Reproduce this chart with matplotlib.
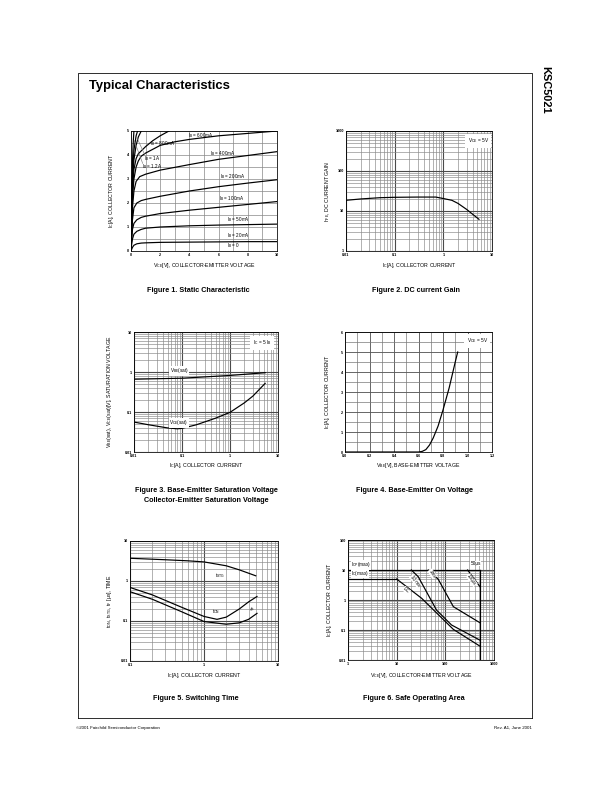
import matplotlib
matplotlib.use('Agg')
import matplotlib.pyplot as plt
from matplotlib.ticker import MultipleLocator, LogLocator, NullFormatter

plt.rcParams['font.family'] = ['Liberation Sans', 'DejaVu Sans']
plt.rcParams['mathtext.default'] = 'regular'

# ---------------- data ----------------
# Figure 1: static characteristic (Vce [V], Ic [A]) per base current
ib20_v = [0, 0.1, 0.2, 0.4, 0.7, 1, 2, 4, 6, 8, 10]
ib20_i = [0, 0.15, 0.24, 0.3, 0.33, 0.34, 0.36, 0.37, 0.38, 0.39, 0.39]
ib50_v = [0, 0.05, 0.1, 0.2, 0.4, 0.7, 1, 2, 4, 6, 8, 10]
ib50_i = [0, 0.3, 0.5, 0.7, 0.82, 0.9, 0.95, 1.0, 1.05, 1.08, 1.1, 1.12]
ib100_v = [0, 0.05, 0.1, 0.2, 0.4, 0.7, 1, 2, 4, 6, 8, 10]
ib100_i = [0, 0.5, 0.9, 1.15, 1.3, 1.4, 1.45, 1.56, 1.7, 1.82, 1.94, 2.06]
ib200_v = [0, 0.05, 0.1, 0.2, 0.4, 0.7, 1, 2, 4, 6, 8, 10]
ib200_i = [0, 0.7, 1.3, 1.8, 2.0, 2.1, 2.15, 2.28, 2.5, 2.68, 2.83, 2.97]
ib400_v = [0, 0.05, 0.1, 0.2, 0.35, 0.6, 1, 2, 4, 6, 8, 10]
ib400_i = [0, 1.0, 1.8, 2.5, 2.9, 3.1, 3.2, 3.37, 3.6, 3.82, 3.98, 4.14]
ib600_v = [0, 0.05, 0.1, 0.2, 0.35, 0.5, 0.7, 1, 2, 3, 4, 6, 8, 10]
ib600_i = [0, 1.2, 2.2, 3.0, 3.5, 3.75, 3.95, 4.08, 4.4, 4.55, 4.65, 4.8, 4.9, 5.0]
ib800_v = [0, 0.05, 0.1, 0.2, 0.35, 0.5, 1, 1.5, 2, 2.6]
ib800_i = [0, 1.4, 2.5, 3.4, 3.85, 4.05, 4.35, 4.6, 4.8, 5.0]
ib1000_v = [0, 0.05, 0.1, 0.2, 0.35, 0.5, 0.7]
ib1000_i = [0, 1.6, 2.8, 3.8, 4.4, 4.75, 5.0]
ib1200_v = [0, 0.05, 0.1, 0.2, 0.35, 0.45]
ib1200_i = [0, 1.8, 3.1, 4.2, 4.8, 5.0]
ib1400_v = [0, 0.05, 0.1, 0.15, 0.2]
ib1400_i = [0, 2.2, 3.7, 4.5, 5.0]

# Figure 2: DC current gain
hfe_ic = [0.01, 0.02, 0.05, 0.1, 0.3, 0.7, 1, 1.5, 2, 3, 4, 5.4]
hfe_val = [18.5, 20, 21.5, 22, 22.3, 22.3, 20.5, 18.5, 15.5, 11, 8.3, 6.2]

# Figure 3: saturation voltages
vbe_ic = [0.01, 0.1, 1, 5.4]
vbe_sat = [0.66, 0.7, 0.82, 0.96]
vce_ic = [0.01, 0.02, 0.05, 0.08, 0.1, 0.2, 0.5, 1, 2, 3, 5.4]
vce_sat = [0.056, 0.048, 0.04, 0.038, 0.039, 0.048, 0.07, 0.098, 0.17, 0.25, 0.52]

# Figure 4: base-emitter on voltage
von_vbe = [0, 0.6, 0.63, 0.66, 0.69, 0.72, 0.76, 0.8, 0.85, 0.9, 0.92]
von_ic = [0, 0.0, 0.03, 0.12, 0.35, 0.7, 1.3, 2.1, 3.2, 4.5, 5.0]

# Figure 5: switching time
tstg_ic = [0.1, 0.3, 0.6, 1, 2, 3, 5]
tstg_t = [3.7, 3.4, 3.2, 3.0, 2.4, 1.9, 1.35]
ton_ic = [0.1, 0.2, 0.5, 1, 1.5, 2, 3, 4, 5.2]
ton_t = [0.69, 0.45, 0.22, 0.13, 0.11, 0.125, 0.2, 0.3, 0.41]
tf_ic = [0.1, 0.2, 0.5, 1, 2, 3, 4, 5.2]
tf_t = [0.54, 0.35, 0.17, 0.097, 0.083, 0.09, 0.11, 0.155]

# Figure 6: safe operating area
icp_v = [1, 513]
icp_i = [10, 10]
icmax_v = [1, 10]
icmax_i = [5, 5]
dc_v = [10, 32.6, 146, 513]
dc_i = [5, 1.14, 0.105, 0.029]
ms10_v = [20, 27.7, 66, 134, 513]
ms10_i = [10, 6.0, 0.46, 0.147, 0.046]
ms1_v = [44.6, 71.5, 146, 513]
ms1_i = [10, 4.9, 0.6, 0.175]
us100_v = [287, 513]
us100_i = [10, 2.8]
vlim_v = [513, 513]
vlim_i = [10, 0.01]

# ---------------- layout ----------------
W, H = 612, 792
fig = plt.figure(figsize=(8.5, 11), dpi=72)

page = fig.add_axes([0, 0, 1, 1], zorder=-5)
page.set_xlim(0, W)
page.set_ylim(H, 0)
page.axis('off')


def add_ax(x0, y0, x1, y1):
    return fig.add_axes([x0 / W, 1 - y1 / H, (x1 - x0) / W, (y1 - y0) / H])


MAJ = dict(color='#4a4a4a', lw=1.1)
MIN = dict(color='#8a8a8a', lw=0.65)
LINE = dict(color='black', lw=1.2)


def style(ax):
    ax.tick_params(which='both', length=0, labelsize=3.8, pad=2)
    for lab in ax.get_xticklabels() + ax.get_yticklabels():
        lab.set_fontweight('bold')
    for s in ax.spines.values():
        s.set_linewidth(0.8)


def log_grid(ax):
    for axis in (ax.xaxis, ax.yaxis):
        axis.set_minor_locator(LogLocator(base=10, subs=range(2, 10), numticks=30))
        axis.set_minor_formatter(NullFormatter())
    ax.grid(True, which='major', **MAJ)
    ax.grid(True, which='minor', **MIN)


# ---- Figure 1 ----
ax1 = add_ax(131, 131, 277, 251)
for v, i in [(ib20_v, ib20_i), (ib50_v, ib50_i), (ib100_v, ib100_i), (ib200_v, ib200_i),
             (ib400_v, ib400_i), (ib600_v, ib600_i), (ib800_v, ib800_i),
             (ib1000_v, ib1000_i), (ib1200_v, ib1200_i), (ib1400_v, ib1400_i)]:
    ax1.plot(v, i, **LINE)
ax1.set_xlim(0, 10)
ax1.set_ylim(0, 5)
ax1.set_xticks([0, 2, 4, 6, 8, 10])
ax1.set_yticks([0, 1, 2, 3, 4, 5])
ax1.xaxis.set_minor_locator(MultipleLocator(1))
ax1.yaxis.set_minor_locator(MultipleLocator(0.5))
ax1.grid(True, which='both', color='#888888', lw=0.7)
style(ax1)
fs = 4.6
ax1.text(3.9, 4.8, r'I$_B$ = 600mA', fontsize=fs, va='center')
ax1.text(1.3, 4.49, r'I$_B$ = 800mA', fontsize=fs, va='center')
ax1.text(5.4, 4.07, r'I$_B$ = 400mA', fontsize=fs, va='center')
ax1.text(6.1, 3.1, r'I$_B$ = 200mA', fontsize=fs, va='center')
ax1.text(6.05, 2.17, r'I$_B$ = 100mA', fontsize=fs, va='center')
ax1.text(6.6, 1.33, r'I$_B$ = 50mA', fontsize=fs, va='center')
ax1.text(6.6, 0.64, r'I$_B$ = 20mA', fontsize=fs, va='center')
ax1.text(6.6, 0.21, r'I$_B$ = 0', fontsize=fs, va='center')
ax1.text(0.9, 3.86, r'I$_B$ = 1A', fontsize=fs, va='center')
ax1.text(0.75, 3.51, r'I$_B$ = 1.2A', fontsize=fs, va='center')
ax1.plot([0.95, 0.42], [4.0, 4.7], color='#777777', lw=0.6)
ax1.plot([0.8, 0.22], [3.65, 4.6], color='#777777', lw=0.6)

# ---- Figure 2 ----
ax2 = add_ax(346, 131, 492, 251)
ax2.plot(hfe_ic, hfe_val, **LINE)
ax2.set_xscale('log')
ax2.set_yscale('log')
ax2.set_xlim(0.01, 10)
ax2.set_ylim(1, 1000)
log_grid(ax2)
ax2.set_xticks([0.01, 0.1, 1, 10])
ax2.set_xticklabels(['0.01', '0.1', '1', '10'])
ax2.set_yticks([1, 10, 100, 1000])
ax2.set_yticklabels(['1', '10', '100', '1000'])
style(ax2)
ax2.text(0.905, 0.92, r'V$_{CE}$ = 5V', transform=ax2.transAxes, fontsize=4.8,
         ha='center', va='center', bbox=dict(facecolor='white', edgecolor='none', pad=2.5))

# ---- Figure 3 ----
ax3 = add_ax(134, 332, 278, 452)
ax3.plot(vbe_ic, vbe_sat, **LINE)
ax3.plot(vce_ic, vce_sat, **LINE)
ax3.set_xscale('log')
ax3.set_yscale('log')
ax3.set_xlim(0.01, 10)
ax3.set_ylim(0.01, 10)
log_grid(ax3)
ax3.set_xticks([0.01, 0.1, 1, 10])
ax3.set_xticklabels(['0.01', '0.1', '1', '10'])
ax3.set_yticks([0.01, 0.1, 1, 10])
ax3.set_yticklabels(['0.01', '0.1', '1', '10'])
style(ax3)
ax3.text(0.055, 1.07, r'V$_{BE}$(sat)', fontsize=4.8, va='center',
         bbox=dict(facecolor='white', edgecolor='none', pad=0.5))
ax3.text(0.054, 0.054, r'V$_{CE}$(sat)', fontsize=4.8, va='center',
         bbox=dict(facecolor='white', edgecolor='none', pad=0.5))
ax3.text(0.89, 0.91, r'I$_C$ = 5 I$_B$', transform=ax3.transAxes, fontsize=4.8,
         ha='center', va='center', bbox=dict(facecolor='white', edgecolor='none', pad=2.5))

# ---- Figure 4 ----
ax4 = add_ax(345, 332, 492, 452)
ax4.plot(von_vbe, von_ic, **LINE)
ax4.set_xlim(0, 1.2)
ax4.set_ylim(0, 6)
ax4.set_xticks([0, 0.2, 0.4, 0.6, 0.8, 1.0, 1.2])
ax4.set_xticklabels(['0.0', '0.2', '0.4', '0.6', '0.8', '1.0', '1.2'])
ax4.set_yticks([0, 1, 2, 3, 4, 5, 6])
ax4.xaxis.set_minor_locator(MultipleLocator(0.1))
ax4.yaxis.set_minor_locator(MultipleLocator(0.5))
ax4.grid(True, which='major', color='#5a5a5a', lw=0.9)
ax4.grid(True, which='minor', color='#7a7a7a', lw=0.7)
style(ax4)
ax4.text(0.9, 0.925, r'V$_{CE}$ = 5V', transform=ax4.transAxes, fontsize=4.8,
         ha='center', va='center', bbox=dict(facecolor='white', edgecolor='none', pad=2.5))

# ---- Figure 5 ----
ax5 = add_ax(130, 541, 278, 661)
ax5.plot(tstg_ic, tstg_t, **LINE)
ax5.plot(ton_ic, ton_t, **LINE)
ax5.plot(tf_ic, tf_t, **LINE)
ax5.set_xscale('log')
ax5.set_yscale('log')
ax5.set_xlim(0.1, 10)
ax5.set_ylim(0.01, 10)
log_grid(ax5)
ax5.set_xticks([0.1, 1, 10])
ax5.set_xticklabels(['0.1', '1', '10'])
ax5.set_yticks([0.01, 0.1, 1, 10])
ax5.set_yticklabels(['0.01', '0.1', '1', '10'])
style(ax5)
ax5.text(1.42, 1.33, r't$_{STG}$', fontsize=4.8, va='center')
ax5.text(1.3, 0.17, r't$_{ON}$', fontsize=4.8, va='center')
ax5.text(3.8, 0.19, r't$_F$', fontsize=4.8, va='center', rotation=-30)

# ---- Figure 6 ----
ax6 = add_ax(348, 540, 494, 660)
for v, i in [(icp_v, icp_i), (icmax_v, icmax_i), (dc_v, dc_i), (ms10_v, ms10_i),
             (ms1_v, ms1_i), (us100_v, us100_i), (vlim_v, vlim_i)]:
    ax6.plot(v, i, **LINE)
ax6.set_xscale('log')
ax6.set_yscale('log')
ax6.set_xlim(1, 1000)
ax6.set_ylim(0.01, 100)
log_grid(ax6)
ax6.set_xticks([1, 10, 100, 1000])
ax6.set_xticklabels(['1', '10', '100', '1000'])
ax6.set_yticks([0.01, 0.1, 1, 10, 100])
ax6.set_yticklabels(['0.01', '0.1', '1', '10', '100'])
style(ax6)
ax6.text(1.15, 15, r'I$_{CP}$(max)', fontsize=4.8, va='center',
         bbox=dict(facecolor='white', edgecolor='none', pad=0.4))
ax6.text(1.15, 7.6, r'I$_C$(max)', fontsize=4.8, va='center',
         bbox=dict(facecolor='white', edgecolor='none', pad=0.4))
ax6.text(330, 16.5, '50μs', fontsize=4.8, va='center',
         bbox=dict(facecolor='white', edgecolor='none', pad=0.4))
ax6.text(350, 4.6, '100μs', fontsize=4.6, va='center', ha='center', rotation=-55,
         bbox=dict(facecolor='white', edgecolor='none', pad=0.3))
ax6.text(54, 7.5, '1ms', fontsize=4.6, va='center', ha='center', rotation=-58,
         bbox=dict(facecolor='white', edgecolor='none', pad=0.3))
ax6.text(24, 4.3, '10 ms', fontsize=4.6, va='center', ha='center', rotation=-52,
         bbox=dict(facecolor='white', edgecolor='none', pad=0.3))
ax6.text(16, 2.1, 'DC', fontsize=4.6, va='center', ha='center', rotation=-40,
         bbox=dict(facecolor='white', edgecolor='none', pad=0.3))

# ---- axis labels (page coordinates) ----
lab = dict(fontsize=5.2, ha='center', va='center')
page.text(204, 266, r'V$_{CE}$[V], COLLECTOR-EMITTER VOLTAGE', **lab)
page.text(419, 266, r'I$_C$[A], COLLECTOR CURRENT', **lab)
page.text(206, 466, r'I$_C$[A], COLLECTOR CURRENT', **lab)
page.text(418, 466, r'V$_{BE}$[V], BASE-EMITTER VOLTAGE', **lab)
page.text(204, 676, r'I$_C$[A], COLLECTOR CURRENT', **lab)
page.text(421, 676, r'V$_{CE}$[V], COLLECTOR-EMITTER VOLTAGE', **lab)

page.text(112, 191, r'I$_C$[A], COLLECTOR CURRENT', rotation=90, **lab)
page.text(328, 191, r'h$_{FE}$, DC CURRENT GAIN', rotation=90, **lab)
page.text(110, 392, r'V$_{BE}$(sat), V$_{CE}$(sat)[V], SATURATION VOLTAGE', rotation=90, **lab)
page.text(328, 392, r'I$_C$[A], COLLECTOR CURRENT', rotation=90, **lab)
page.text(110, 601, r't$_{ON}$, t$_{STG}$, t$_F$ [μs], TIME', rotation=90, **lab)
page.text(330, 600, r'I$_C$[A], COLLECTOR CURRENT', rotation=90, **lab)

# ---- captions ----
cap = dict(fontsize=7.2, fontweight='bold', ha='center', va='center')
page.text(198, 291, 'Figure 1. Static Characteristic', **cap)
page.text(416, 291, 'Figure 2. DC current Gain', **cap)
page.text(206, 491, 'Figure 3. Base-Emitter Saturation Voltage', **cap)
page.text(206, 501, 'Collector-Emitter Saturation Voltage', **cap)
page.text(414, 491, 'Figure 4. Base-Emitter On Voltage', **cap)
page.text(196, 699, 'Figure 5. Switching Time', **cap)
page.text(414, 699, 'Figure 6. Safe Operating Area', **cap)

# ---- page frame, title, footer ----
page.plot([78, 78, 531.5, 531.5], [718, 72.7, 72.7, 718], color='black', lw=0.8)
page.plot([78, 531.5], [718.3, 718.3], color='black', lw=0.8)
page.text(89, 85.5, 'Typical Characteristics', fontsize=13, fontweight='bold',
          ha='left', va='center')
page.text(545, 90, 'KSC5021', fontsize=11, fontweight='bold', rotation=-90,
          ha='center', va='center')
page.text(76, 728, '©2001 Fairchild Semiconductor Corporation', fontsize=4.4,
          ha='left', va='center')
page.text(532, 728, 'Rev. A1, June 2001', fontsize=4.4, ha='right', va='center')

fig.savefig('out.png', dpi=72)
